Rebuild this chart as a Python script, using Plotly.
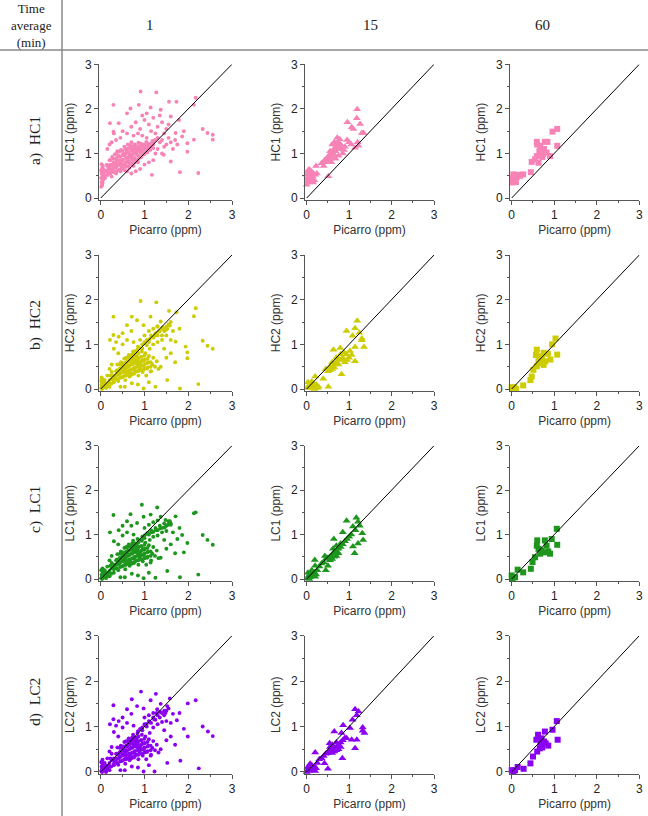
import plotly.graph_objects as go

W, H = 648, 816

# ---------------- data ----------------
time_labels = ["1", "15", "60"]
sensor_names = ["HC1", "HC2", "LC1", "LC2"]
row_labels = ["a)  HC1", "b)  HC2", "c)  LC1", "d)  LC2"]
sensor_colors = ["#F783B6", "#CCCC00", "#1E961E", "#8A00F0"]
tick_values = [0, 1, 2, 3]
diag_line = [0, 3]

hc1_1min = [
    (0.01,0.25),(0.03,0.3),(0.02,0.36),(0.05,0.4),(0.01,0.45),(0.04,0.5),(0.02,0.55),(0.06,0.58),(0.01,0.62),
    (0.03,0.67),(0.05,0.72),(0.02,0.76),(0.04,0.33),(0.06,0.46),(0.07,0.63),(0.08,0.52),(0.03,0.28),(0.05,0.65),
    (0.10,0.45),(0.12,0.6),(0.14,0.75),(0.16,0.52),(0.18,0.68),(0.2,0.85),(0.22,0.58),(0.24,0.74),(0.26,0.92),
    (0.28,0.62),(0.3,0.8),(0.32,0.98),(0.34,0.68),(0.36,0.86),(0.38,1.05),(0.4,0.62),(0.42,0.76),(0.44,0.92),
    (0.46,1.08),(0.48,0.7),(0.5,0.85),(0.52,1.0),(0.54,1.15),(0.56,0.74),(0.58,0.9),(0.6,1.05),(0.62,1.2),
    (0.64,0.8),(0.66,0.95),(0.68,1.1),(0.7,1.25),(0.72,0.78),(0.74,0.88),(0.76,1.02),(0.78,1.16),(0.8,0.84),
    (0.82,0.98),(0.84,1.1),(0.86,1.24),(0.88,0.9),(0.9,1.04),(0.92,1.16),(0.94,0.95),(0.96,1.08),(0.98,1.2),
    (1.0,1.0),(1.02,1.12),(1.04,1.26),(1.06,1.05),(1.08,1.18),(1.1,1.1),(1.12,1.22),(1.15,1.15),(1.18,1.28),
    (1.2,1.2),(1.24,1.3),(0.25,0.48),(0.35,0.55),(0.45,0.6),(0.55,0.62),(0.65,0.68),(0.75,0.72),(0.85,0.8),
    (0.5,0.75),(0.6,0.82),(0.7,0.92),(0.8,1.0),(0.9,1.1),(0.55,0.95),(0.65,1.0),(0.75,1.1),(0.4,0.95),(0.3,0.7),
    (0.2,0.7),(0.15,0.6),(0.62,0.88),(0.72,0.98),(0.82,1.06),(0.92,0.92),(1.0,1.16),(0.46,0.82),(0.36,0.76),
    (0.58,1.1),(0.68,1.18),
    (0.29,2.09),(0.91,2.39),(1.27,2.37),(0.87,2.09),(0.68,2.01),(1.14,2.03),(1.37,1.98),(1.56,2.16),(1.73,2.16),
    (2.17,2.25),(2.13,2.09),(1.6,1.83),(1.79,1.75),(0.6,1.9),(0.21,1.68),(0.41,1.68),(0.29,1.49),
    (0.7,1.6),(0.8,1.7),(0.9,1.55),(1.0,1.75),(1.1,1.65),(1.2,1.8),(1.3,1.6),(1.4,1.7),(1.5,1.55),(1.15,1.5),
    (1.25,1.45),(0.95,1.85),(1.05,1.9),(0.85,1.45),(1.35,1.85),(1.45,1.45),(1.55,1.65),(0.6,1.45),(0.5,1.5),
    (0.45,1.35),(0.35,1.3),(0.25,1.25),(0.3,1.45),(0.15,1.1),(0.2,1.2),(0.75,1.4),(0.95,1.4),(1.05,1.35),
    (1.3,1.1),(1.35,1.25),(1.4,1.3),(1.45,1.15),(1.5,1.2),(1.55,1.35),(1.6,1.25),(1.3,1.35),(1.25,1.0),(1.4,1.0),
    (1.2,0.85),(1.1,0.8),(1.0,0.75),(0.9,0.65),(0.8,0.6),(0.7,0.55),(1.65,1.1),(1.7,1.3),(1.75,1.2),(1.71,1.46),
    (1.98,1.23),(2.33,1.55),(2.44,1.46),(2.56,1.42),(2.56,1.31),(2.13,1.31),(1.98,1.04),(1.81,0.58),(2.23,0.56),
    (1.86,1.38),(0.6,0.6),(1.17,0.52),(1.6,0.82),(1.44,0.97),(1.9,1.5),
]
hc1_1min_core = [
    (0.15,0.52),(0.15,0.62),(0.15,0.72),(0.22,0.55),(0.22,0.65),(0.22,0.75),(0.22,0.85),
    (0.29,0.58),(0.29,0.68),(0.29,0.78),(0.29,0.88),(0.36,0.6),(0.36,0.7),(0.36,0.8),(0.36,0.9),(0.36,1.0),
    (0.43,0.64),(0.43,0.74),(0.43,0.84),(0.43,0.94),(0.43,1.04),(0.5,0.66),(0.5,0.76),(0.5,0.86),(0.5,0.96),(0.5,1.06),
    (0.57,0.7),(0.57,0.8),(0.57,0.9),(0.57,1.0),(0.57,1.1),(0.64,0.72),(0.64,0.82),(0.64,0.92),(0.64,1.02),(0.64,1.12),
    (0.71,0.76),(0.71,0.86),(0.71,0.96),(0.71,1.06),(0.71,1.16),(0.78,0.8),(0.78,0.9),(0.78,1.0),(0.78,1.1),(0.78,1.2),
    (0.85,0.86),(0.85,0.96),(0.85,1.06),(0.85,1.16),(0.92,0.92),(0.92,1.02),(0.92,1.12),(0.92,1.22),
    (0.99,0.98),(0.99,1.08),(0.99,1.18),(1.06,1.02),(1.06,1.12),(1.06,1.22),(1.13,1.08),(1.13,1.18),(1.2,1.12),(1.2,1.24),
]

hc2_1min = [
    (0.01,0.02),(0.03,0.06),(0.02,0.1),(0.05,0.14),(0.01,0.18),(0.04,0.22),(0.02,0.26),(0.06,0.04),(0.08,0.1),
    (0.03,0.0),(0.07,0.17),(0.1,0.05),(0.12,0.12),(0.05,0.08),(0.1,0.1),(0.15,0.13),(0.2,0.2),(0.25,0.22),
    (0.3,0.3),(0.15,0.3),(0.2,0.05),(0.25,0.38),(0.3,0.15),
    (0.32,0.25),(0.35,0.4),(0.38,0.55),(0.4,0.18),(0.42,0.32),(0.44,0.46),(0.46,0.6),(0.48,0.26),(0.5,0.4),
    (0.52,0.54),(0.54,0.68),(0.56,0.2),(0.58,0.34),(0.6,0.48),(0.62,0.62),(0.64,0.76),(0.66,0.28),(0.68,0.42),
    (0.7,0.56),(0.72,0.7),(0.74,0.84),(0.76,0.34),(0.78,0.48),(0.8,0.62),(0.82,0.76),(0.84,0.88),(0.86,0.3),
    (0.88,0.44),(0.9,0.58),(0.92,0.72),(0.94,0.84),(0.96,0.38),(0.98,0.52),(1.0,0.66),(1.02,0.8),(1.04,0.3),
    (1.06,0.46),(1.08,0.6),(1.1,0.74),(1.12,0.9),(1.15,0.4),(1.18,0.55),(1.2,0.7),(1.24,0.5),(1.28,0.62),(1.32,0.45),
    (0.45,0.36),(0.55,0.44),(0.65,0.52),(0.75,0.6),(0.85,0.66),(0.95,0.64),(0.6,0.58),(0.7,0.66),(0.8,0.72),
    (0.9,0.5),(1.0,0.56),(0.55,0.3),(0.65,0.38),(0.75,0.44),(0.85,0.54),(0.7,0.32),(0.8,0.4),(0.9,0.44),(1.0,0.46),
    (0.62,0.7),(0.72,0.78),(0.5,0.5),(0.4,0.4),(0.36,0.3),
    (0.8,0.85),(0.85,0.95),(0.9,0.92),(0.95,1.0),(1.0,1.05),(1.05,1.1),(1.1,1.05),(1.15,1.2),(1.2,1.15),(1.25,1.25),
    (1.3,1.2),(1.35,1.3),(1.4,1.35),(1.45,1.3),(1.5,1.4),(1.55,1.45),(1.6,1.5),(1.0,1.2),(1.1,1.3),(1.2,1.35),
    (1.3,1.4),(0.9,1.1),(1.4,1.2),(1.5,1.2),(1.2,1.0),(1.3,1.05),(1.4,1.1),
    (0.29,1.62),(0.91,1.97),(1.27,1.94),(1.56,1.75),(1.73,1.72),(2.17,1.81),(2.13,1.63),(2.33,1.08),(2.44,0.97),
    (2.56,0.9),(1.98,0.69),(1.98,0.82),(1.81,0.01),(2.23,0.11),(1.94,0.95),(1.71,1.06),(0.29,1.21),(0.21,1.1),
    (0.41,1.17),(0.71,1.62),(0.83,1.54),(0.6,1.43),(0.98,1.43),(1.14,1.62),(1.29,1.4),(1.37,1.51),(1.48,1.32),
    (1.6,1.1),(1.25,0.05),(0.98,0.01),(0.71,0.13),(0.45,0.05),(1.52,0.2),(1.37,0.5),(1.14,0.39),(0.5,1.0),(0.4,0.8),
    (0.3,0.9),(0.6,1.1),(0.7,1.3),(0.5,1.25),(0.35,1.05),(0.75,1.05),(1.6,0.8),(1.7,0.6),(1.5,0.7),(1.45,0.9),
    (1.65,1.3),(1.8,1.35),(0.55,0.05),(0.85,0.1),(1.1,0.15),(0.25,0.55),(0.2,0.45),
]
hc2_1min_core = [
    (0.3,0.2),(0.3,0.3),(0.37,0.22),(0.37,0.32),(0.37,0.42),(0.44,0.25),(0.44,0.35),(0.44,0.45),(0.44,0.55),
    (0.51,0.28),(0.51,0.38),(0.51,0.48),(0.51,0.58),(0.58,0.3),(0.58,0.4),(0.58,0.5),(0.58,0.6),(0.58,0.7),
    (0.65,0.32),(0.65,0.42),(0.65,0.52),(0.65,0.62),(0.65,0.72),(0.72,0.35),(0.72,0.45),(0.72,0.55),(0.72,0.65),(0.72,0.75),
    (0.79,0.38),(0.79,0.48),(0.79,0.58),(0.79,0.68),(0.79,0.78),(0.86,0.4),(0.86,0.5),(0.86,0.6),(0.86,0.7),(0.86,0.8),
    (0.93,0.42),(0.93,0.52),(0.93,0.62),(0.93,0.72),(1.0,0.45),(1.0,0.55),(1.0,0.65),(1.0,0.75),
    (1.07,0.48),(1.07,0.58),(1.07,0.68),(1.14,0.5),(1.14,0.6),
    (0.95,0.9),(1.05,0.98),(1.12,1.12),(1.22,1.18),(1.32,1.28),(1.42,1.38),(1.52,1.35),(1.58,1.42),
    (0.04,0.04),(0.06,0.12),(0.03,0.2),(0.14,0.06),(0.18,0.14),(0.24,0.12),(0.09,0.2),(0.22,0.3),(0.12,0.02),
]

lc1_1min = [
    (0.01,0.02),(0.03,0.06),(0.02,0.1),(0.05,0.15),(0.01,0.2),(0.04,0.24),(0.06,0.04),(0.08,0.12),(0.03,0.0),
    (0.07,0.18),(0.1,0.06),(0.12,0.14),(0.05,0.09),(0.1,0.1),(0.15,0.12),(0.2,0.18),(0.25,0.24),(0.3,0.28),
    (0.15,0.28),(0.2,0.06),(0.25,0.36),(0.3,0.14),
    (0.32,0.26),(0.35,0.42),(0.38,0.56),(0.4,0.2),(0.42,0.34),(0.44,0.48),(0.46,0.62),(0.48,0.28),(0.5,0.42),
    (0.52,0.56),(0.54,0.7),(0.56,0.22),(0.58,0.36),(0.6,0.5),(0.62,0.64),(0.64,0.78),(0.66,0.3),(0.68,0.44),
    (0.7,0.58),(0.72,0.72),(0.74,0.86),(0.76,0.36),(0.78,0.5),(0.8,0.64),(0.82,0.78),(0.84,0.9),(0.86,0.32),
    (0.88,0.46),(0.9,0.6),(0.92,0.74),(0.94,0.86),(0.96,0.4),(0.98,0.54),(1.0,0.68),(1.02,0.82),(1.04,0.32),
    (1.06,0.48),(1.08,0.62),(1.1,0.76),(1.12,0.88),(1.15,0.42),(1.18,0.57),(1.2,0.72),(1.24,0.52),(1.28,0.64),(1.32,0.47),
    (0.45,0.38),(0.55,0.46),(0.65,0.54),(0.75,0.62),(0.85,0.68),(0.95,0.66),(0.6,0.6),(0.7,0.68),(0.8,0.74),
    (0.9,0.52),(1.0,0.58),(0.55,0.32),(0.65,0.4),(0.75,0.46),(0.85,0.56),(0.7,0.34),(0.8,0.42),(0.9,0.46),(1.0,0.48),
    (0.62,0.72),(0.72,0.8),(0.5,0.52),(0.4,0.42),(0.36,0.32),
    (0.9,0.88),(0.95,0.95),(1.0,0.98),(1.05,1.02),(1.1,1.0),(1.15,1.1),(1.2,1.06),(1.25,1.15),(1.3,1.1),(1.35,1.2),
    (1.4,1.15),(1.45,1.25),(1.5,1.2),(1.55,1.3),(1.6,1.25),(1.0,1.15),(1.1,1.22),(1.2,1.28),(1.3,1.32),(1.4,1.05),
    (1.5,1.08),(1.2,0.95),(1.3,0.98),
    (0.94,1.67),(0.29,1.44),(1.29,1.61),(0.68,1.46),(1.71,1.41),(2.17,1.5),(2.13,1.48),(2.33,0.99),(2.44,0.88),
    (2.56,0.77),(1.98,0.81),(1.81,0.04),(2.23,0.1),(1.86,0.99),(1.6,1.22),(1.48,1.33),(0.83,1.26),(0.21,1.05),
    (0.41,1.1),(0.6,1.3),(0.98,1.4),(1.14,1.45),(1.37,1.4),(0.5,0.98),(0.4,0.78),(0.3,0.85),(0.6,1.05),(0.7,1.2),
    (0.5,1.2),(0.75,1.0),(1.6,0.78),(1.7,0.58),(1.5,0.68),(1.45,0.88),(1.65,1.05),(1.8,1.15),(1.25,0.03),(0.98,0.02),
    (0.71,0.12),(0.45,0.04),(1.52,0.18),(1.37,0.48),(1.14,0.37),(0.55,0.04),(0.85,0.08),(1.1,0.14),(0.25,0.52),
    (0.2,0.42),(1.9,0.6),(1.75,0.9),
]
lc1_1min_core = [
    (0.3,0.22),(0.3,0.32),(0.37,0.24),(0.37,0.34),(0.37,0.44),(0.44,0.27),(0.44,0.37),(0.44,0.47),(0.44,0.57),
    (0.51,0.3),(0.51,0.4),(0.51,0.5),(0.51,0.6),(0.58,0.32),(0.58,0.42),(0.58,0.52),(0.58,0.62),(0.58,0.72),
    (0.65,0.34),(0.65,0.44),(0.65,0.54),(0.65,0.64),(0.65,0.74),(0.72,0.37),(0.72,0.47),(0.72,0.57),(0.72,0.67),(0.72,0.77),
    (0.79,0.4),(0.79,0.5),(0.79,0.6),(0.79,0.7),(0.79,0.8),(0.86,0.42),(0.86,0.52),(0.86,0.62),(0.86,0.72),(0.86,0.82),
    (0.93,0.44),(0.93,0.54),(0.93,0.64),(0.93,0.74),(1.0,0.47),(1.0,0.57),(1.0,0.67),(1.0,0.77),
    (1.07,0.5),(1.07,0.6),(1.07,0.7),(1.14,0.52),(1.14,0.62),
    (1.0,0.92),(1.08,1.04),(1.16,1.05),(1.26,1.1),(1.36,1.14),(1.46,1.16),(1.54,1.22),(1.58,1.3),
    (0.04,0.04),(0.06,0.12),(0.03,0.2),(0.14,0.06),(0.18,0.14),(0.24,0.12),(0.09,0.2),(0.22,0.3),(0.12,0.02),
]

lc2_1min = [
    (0.01,0.02),(0.03,0.07),(0.02,0.12),(0.05,0.16),(0.01,0.22),(0.04,0.27),(0.06,0.04),(0.08,0.11),(0.03,0.0),
    (0.07,0.19),(0.1,0.05),(0.12,0.13),(0.05,0.09),(0.1,0.1),(0.15,0.14),(0.2,0.2),(0.25,0.26),(0.3,0.3),
    (0.15,0.3),(0.2,0.04),(0.25,0.4),(0.3,0.15),(0.12,0.0),(0.18,0.08),
    (0.32,0.24),(0.35,0.4),(0.38,0.54),(0.4,0.16),(0.42,0.3),(0.44,0.44),(0.46,0.58),(0.48,0.24),(0.5,0.38),
    (0.52,0.52),(0.54,0.66),(0.56,0.18),(0.58,0.32),(0.6,0.46),(0.62,0.6),(0.64,0.74),(0.66,0.26),(0.68,0.4),
    (0.7,0.54),(0.72,0.68),(0.74,0.82),(0.76,0.32),(0.78,0.46),(0.8,0.6),(0.82,0.74),(0.84,0.86),(0.86,0.28),
    (0.88,0.42),(0.9,0.56),(0.92,0.7),(0.94,0.82),(0.96,0.36),(0.98,0.5),(1.0,0.64),(1.02,0.78),(1.04,0.28),
    (1.06,0.44),(1.08,0.58),(1.1,0.72),(1.12,0.86),(1.15,0.38),(1.18,0.53),(1.2,0.68),(1.24,0.48),(1.28,0.6),(1.32,0.43),
    (0.45,0.34),(0.55,0.42),(0.65,0.5),(0.75,0.58),(0.85,0.64),(0.95,0.62),(0.6,0.56),(0.7,0.64),(0.8,0.7),
    (0.9,0.48),(1.0,0.54),(0.55,0.28),(0.65,0.36),(0.75,0.42),(0.85,0.52),(0.7,0.3),(0.8,0.38),(0.9,0.42),(1.0,0.44),
    (0.62,0.68),(0.72,0.76),(0.5,0.48),(0.4,0.38),(0.36,0.28),
    (0.85,0.9),(0.9,0.95),(0.95,0.98),(1.0,1.05),(1.05,1.0),(1.1,1.12),(1.15,1.08),(1.2,1.2),(1.25,1.15),(1.3,1.25),
    (1.35,1.2),(1.4,1.3),(1.45,1.25),(1.5,1.35),(1.55,1.4),(1.0,1.2),(1.1,1.25),(1.2,1.3),(1.3,1.05),(1.4,1.1),
    (1.5,1.12),(1.2,0.98),
    (0.92,1.77),(0.29,1.47),(1.26,1.72),(1.58,1.62),(2.17,1.58),(1.99,1.51),(2.33,1.0),(2.45,0.89),(2.56,0.79),
    (1.99,0.78),(1.82,0.25),(2.24,0.08),(1.74,1.14),(0.29,1.16),(1.23,0.01),(0.21,1.05),(0.41,1.12),(0.71,1.6),
    (0.83,1.45),(0.6,1.38),(0.98,1.4),(1.14,1.58),(1.29,1.38),(1.37,1.5),(1.48,1.3),(1.6,1.08),(0.98,0.01),
    (0.71,0.12),(0.45,0.04),(1.52,0.2),(1.37,0.5),(1.14,0.36),(0.5,0.98),(0.4,0.78),(0.3,0.88),(0.6,1.08),(0.7,1.28),
    (0.5,1.2),(0.35,1.02),(0.75,1.02),(1.6,0.78),(1.7,0.6),(1.5,0.7),(1.45,0.92),(1.65,1.28),(1.8,1.3),(0.55,0.04),
    (0.85,0.1),(1.1,0.15),(0.25,0.55),(0.2,0.45),(1.9,0.95),
]
lc2_1min_core = [
    (0.3,0.18),(0.3,0.28),(0.37,0.2),(0.37,0.3),(0.37,0.4),(0.44,0.23),(0.44,0.33),(0.44,0.43),(0.44,0.53),
    (0.51,0.26),(0.51,0.36),(0.51,0.46),(0.51,0.56),(0.58,0.28),(0.58,0.38),(0.58,0.48),(0.58,0.58),(0.58,0.68),
    (0.65,0.3),(0.65,0.4),(0.65,0.5),(0.65,0.6),(0.65,0.7),(0.72,0.33),(0.72,0.43),(0.72,0.53),(0.72,0.63),(0.72,0.73),
    (0.79,0.36),(0.79,0.46),(0.79,0.56),(0.79,0.66),(0.79,0.76),(0.86,0.38),(0.86,0.48),(0.86,0.58),(0.86,0.68),(0.86,0.78),
    (0.93,0.4),(0.93,0.5),(0.93,0.6),(0.93,0.7),(1.0,0.43),(1.0,0.53),(1.0,0.63),(1.0,0.73),
    (1.07,0.46),(1.07,0.56),(1.07,0.66),(1.14,0.48),(1.14,0.58),
    (0.95,0.92),(1.05,1.06),(1.12,1.1),(1.22,1.16),(1.28,1.3),(1.36,1.32),(1.45,1.35),(1.52,1.45),
    (0.04,0.04),(0.06,0.12),(0.03,0.2),(0.14,0.06),(0.18,0.14),(0.24,0.12),(0.09,0.2),(0.22,0.3),(0.12,0.02),
]

hc1_15min = [
    (0.0,0.3),(0.02,0.38),(0.04,0.45),(0.01,0.52),(0.03,0.6),(0.06,0.35),(0.08,0.5),(0.1,0.42),(0.12,0.58),
    (0.05,0.64),(0.14,0.48),(0.16,0.55),(0.18,0.4),(0.2,0.52),(0.22,0.72),(0.09,0.62),(0.02,0.45),(0.15,0.35),
    (0.24,0.55),(0.06,0.56),
    (0.35,0.78),(0.4,0.72),(0.42,0.85),(0.45,0.8),(0.48,0.9),(0.5,0.85),(0.52,0.95),(0.55,0.88),(0.58,1.0),
    (0.6,0.92),(0.62,1.05),(0.64,0.98),(0.66,1.12),(0.68,1.05),(0.7,1.2),(0.72,1.1),(0.74,1.25),(0.76,1.15),
    (0.78,1.32),(0.8,1.2),(0.82,1.1),(0.85,1.0),(0.88,1.08),(0.9,1.15),(0.6,1.2),(0.55,1.05),(0.68,0.88),
    (0.75,0.95),(0.65,1.25),(0.72,1.35),(0.58,0.8),
    (0.96,1.7),(1.18,1.79),(1.19,1.99),(1.06,1.59),(1.26,1.66),(1.3,1.46),(1.34,1.46),(1.22,1.17),(1.14,1.13),
    (1.1,1.55),(1.0,1.25),(1.05,1.2),(1.2,1.25),(0.51,0.49),(0.95,1.3),
]

hc2_15min = [
    (1.19,1.53),(0.94,1.3),(1.14,1.36),(1.08,1.19),(1.24,1.26),(1.3,1.09),(1.3,1.13),(1.35,0.94),(1.14,0.94),
    (1.06,0.76),(1.14,0.62),(1.02,0.85),(0.94,0.77),(0.82,0.33),(0.63,0.88),(0.79,0.92),(0.86,0.66),(0.51,0.05),
    (0.39,0.23),(0.2,0.28),(0.12,0.17),
    (0.45,0.45),(0.5,0.4),(0.55,0.5),(0.6,0.45),(0.65,0.55),(0.7,0.6),(0.75,0.55),(0.8,0.65),(0.85,0.7),
    (0.9,0.6),(0.6,0.6),(0.7,0.7),(0.55,0.42),(0.65,0.48),(0.75,0.68),(0.8,0.78),(0.88,0.82),(0.95,0.65),(1.0,0.7),
    (0.02,0.02),(0.05,0.08),(0.08,0.03),(0.12,0.05),(0.15,0.1),(0.03,0.15),(0.2,0.06),(0.25,0.02),(0.18,0.0),
    (0.1,0.12),(0.22,0.1),(0.28,0.05),
]

lc1_15min = [
    (0.02,0.02),(0.05,0.08),(0.08,0.04),(0.1,0.12),(0.14,0.08),(0.03,0.14),(0.18,0.15),(0.22,0.1),(0.12,0.2),
    (0.2,0.05),(0.06,0.0),(0.25,0.2),
    (0.3,0.28),(0.35,0.35),(0.4,0.38),(0.45,0.45),(0.5,0.48),(0.55,0.5),(0.6,0.55),(0.65,0.6),(0.7,0.62),
    (0.75,0.68),(0.8,0.72),(0.55,0.42),(0.6,0.45),(0.65,0.5),(0.7,0.52),(0.75,0.58),(0.85,0.78),(0.9,0.85),
    (0.62,0.68),(0.7,0.75),(0.8,0.8),(0.64,0.9),(0.43,0.52),(0.19,0.43),(0.2,0.3),(0.45,0.2),(0.5,0.3),
    (0.94,1.31),(1.17,1.38),(1.21,1.29),(1.09,1.18),(1.31,1.03),(1.33,0.88),(1.21,0.8),(1.09,0.73),(1.13,0.58),
    (1.05,1.0),(1.0,0.95),(1.15,1.1),(0.95,0.9),(1.25,1.2),(0.85,1.05),
]

lc2_15min = [
    (1.14,1.38),(1.22,1.33),(1.18,1.25),(1.32,0.98),(1.32,0.91),(1.36,0.86),(1.08,1.15),(1.02,0.97),(0.86,1.03),
    (0.82,0.86),(0.65,0.89),(1.18,0.71),(1.06,0.71),(0.94,0.74),(1.14,0.52),(0.84,0.3),(0.5,0.07),(0.42,0.19),
    (0.2,0.43),(0.54,0.63),
    (0.4,0.35),(0.45,0.4),(0.5,0.42),(0.55,0.48),(0.6,0.5),(0.65,0.52),(0.7,0.55),(0.75,0.6),(0.8,0.65),
    (0.85,0.7),(0.9,0.75),(0.6,0.42),(0.65,0.45),(0.7,0.48),(0.75,0.5),(0.55,0.55),(0.6,0.6),(0.7,0.65),
    (0.8,0.55),(0.35,0.3),(0.3,0.28),(0.25,0.2),
    (0.0,0.0),(0.03,0.05),(0.06,0.02),(0.1,0.08),(0.12,0.15),(0.15,0.05),(0.18,0.12),(0.05,0.12),(0.08,0.18),
    (0.2,0.02),(0.22,0.08),(0.02,0.1),
]

hc1_60min = [
    (1.07,1.55),(0.96,1.49),(1.07,1.17),(0.84,1.26),(0.78,1.26),(0.59,1.26),(0.67,1.17),(0.7,1.1),(0.59,0.94),
    (0.47,0.81),(0.55,0.87),(0.74,0.98),(0.9,0.94),(0.82,1.02),(0.63,0.79),(0.45,0.58),(0.27,0.53),(0.02,0.45),
    (0.08,0.38),(0.02,0.35),(0.12,0.47),(0.2,0.5),(0.04,0.53),(0.1,0.36),(0.16,0.52),(0.06,0.5),(0.65,1.05),
    (0.72,0.92),(0.6,1.2),(0.76,1.1),
]

hc2_60min = [
    (1.03,1.13),(1.07,0.77),(0.85,0.79),(0.75,0.81),(0.59,0.88),(0.57,0.76),(0.67,0.66),(0.75,0.54),(0.59,0.51),
    (0.51,0.43),(0.47,0.28),(0.44,0.2),(0.67,0.58),(0.79,0.62),(0.91,0.66),(0.95,1.0),(0.27,0.08),(0.06,0.04),
    (0.02,0.0),(0.1,0.0),(0.0,0.04),(0.63,0.62),(0.71,0.73),
]

lc1_60min = [
    (1.06,1.13),(1.07,0.77),(0.94,0.9),(0.78,0.87),(0.6,0.87),(0.59,0.75),(0.7,0.64),(0.86,0.62),(0.78,0.6),
    (0.67,0.57),(0.55,0.49),(0.49,0.38),(0.45,0.23),(0.27,0.15),(0.14,0.21),(0.02,0.0),(0.08,0.04),(0.0,0.08),
    (0.63,0.68),(0.82,0.75),(0.9,0.57),
]

lc2_60min = [
    (1.06,1.12),(1.08,0.71),(0.96,0.93),(0.78,0.89),(0.62,0.82),(0.58,0.71),(0.7,0.74),(0.86,0.58),(0.72,0.54),
    (0.8,0.63),(0.6,0.45),(0.5,0.34),(0.44,0.19),(0.28,0.07),(0.14,0.11),(0.0,0.04),(0.04,0.0),(0.08,0.04),
    (0.66,0.52),(0.76,0.67),(0.68,0.63),
]

panel_data = [
    [hc1_1min + hc1_1min_core, hc1_15min, hc1_60min],
    [hc2_1min + hc2_1min_core, hc2_15min, hc2_60min],
    [lc1_1min + lc1_1min_core, lc1_15min, lc1_60min],
    [lc2_1min + lc2_1min_core, lc2_15min, lc2_60min],
]

# ---------------- layout geometry (pixels) ----------------
col_px = [(99.0, 232.0), (305.0, 434.0), (510.0, 639.3)]
row_px = [(64.3, 199.8), (255.0, 390.8), (445.7, 580.8), (635.7, 773.8)]
marker_symbols = ["circle", "triangle-up", "square"]
marker_sizes = [3.9, 7, 6]
axis_range = [-0.04, 3.0]

fig = go.Figure()
layout = dict(
    width=W, height=H, margin=dict(l=0, r=0, t=0, b=0),
    paper_bgcolor="white", plot_bgcolor="white", showlegend=False,
)

axfont = dict(family="Liberation Sans, Arial, sans-serif", size=12, color="#222")
titlefont = dict(family="Liberation Sans, Arial, sans-serif", size=12, color="#333")

k = 0
for r in range(4):
    for c in range(3):
        k += 1
        xa = "x" if k == 1 else f"x{k}"
        ya = "y" if k == 1 else f"y{k}"
        pts = panel_data[r][c]
        xs = [p[0] for p in pts]
        ys = [p[1] for p in pts]
        fig.add_trace(go.Scatter(
            x=xs, y=ys, mode="markers", xaxis=xa, yaxis=ya, cliponaxis=False,
            marker=dict(symbol=marker_symbols[c], size=marker_sizes[c],
                        color=sensor_colors[r], line=dict(width=0)),
            hoverinfo="skip"))
        fig.add_trace(go.Scatter(
            x=diag_line, y=diag_line, mode="lines", xaxis=xa, yaxis=ya,
            line=dict(color="black", width=1), hoverinfo="skip"))
        x0, x1 = col_px[c]
        y0, y1 = row_px[r]
        common = dict(
            range=axis_range, showgrid=False, zeroline=False, showline=True,
            linecolor="#555", linewidth=1, ticks="outside", ticklen=4, tickwidth=1,
            tickcolor="#555", tickvals=tick_values, tickfont=axfont, automargin=False,
            minor=dict(ticks="outside", ticklen=2, tickwidth=1, tickcolor="#555", dtick=0.5, tick0=0),
        )
        layout["xaxis" + ("" if k == 1 else str(k))] = dict(
            common, domain=[x0 / W, x1 / W], anchor=ya,
            title=dict(text="Picarro (ppm)", font=titlefont, standoff=4))
        layout["yaxis" + ("" if k == 1 else str(k))] = dict(
            common, domain=[1 - y1 / H, 1 - y0 / H], anchor=xa,
            title=dict(text=f"{sensor_names[r]} (ppm)", font=titlefont, standoff=7))

serif = "Liberation Serif, Times New Roman, serif"
annotations = [
    dict(text="Time<br>average<br>(min)", x=31 / W, y=1 - 25 / H, xref="paper", yref="paper",
         xanchor="center", yanchor="middle",
         showarrow=False, font=dict(family=serif, size=13, color="#222"), align="center"),
]
header_x = [150, 370, 542]
for t, hx in zip(time_labels, header_x):
    annotations.append(dict(text=t, x=hx / W, y=1 - 25 / H, xref="paper", yref="paper",
                            xanchor="center", yanchor="middle",
                            showarrow=False, font=dict(family=serif, size=15, color="#222")))
label_y = [141, 325, 510, 702]
for lab, ly in zip(row_labels, label_y):
    annotations.append(dict(text=lab.replace("  ", "&nbsp;&nbsp;"), x=35 / W, y=1 - ly / H,
                            xref="paper", yref="paper", textangle=-90, showarrow=False,
                            xanchor="center", yanchor="middle",
                            font=dict(family=serif, size=15.5, color="#222")))
layout["annotations"] = annotations
layout["shapes"] = [
    dict(type="line", xref="paper", yref="paper", x0=62 / W, x1=62 / W, y0=0, y1=1,
         line=dict(color="#888", width=1.5)),
    dict(type="line", xref="paper", yref="paper", x0=0, x1=1, y0=1 - 50 / H, y1=1 - 50 / H,
         line=dict(color="#888", width=1.5)),
]
fig.update_layout(**layout)
fig.write_html("out.html")
